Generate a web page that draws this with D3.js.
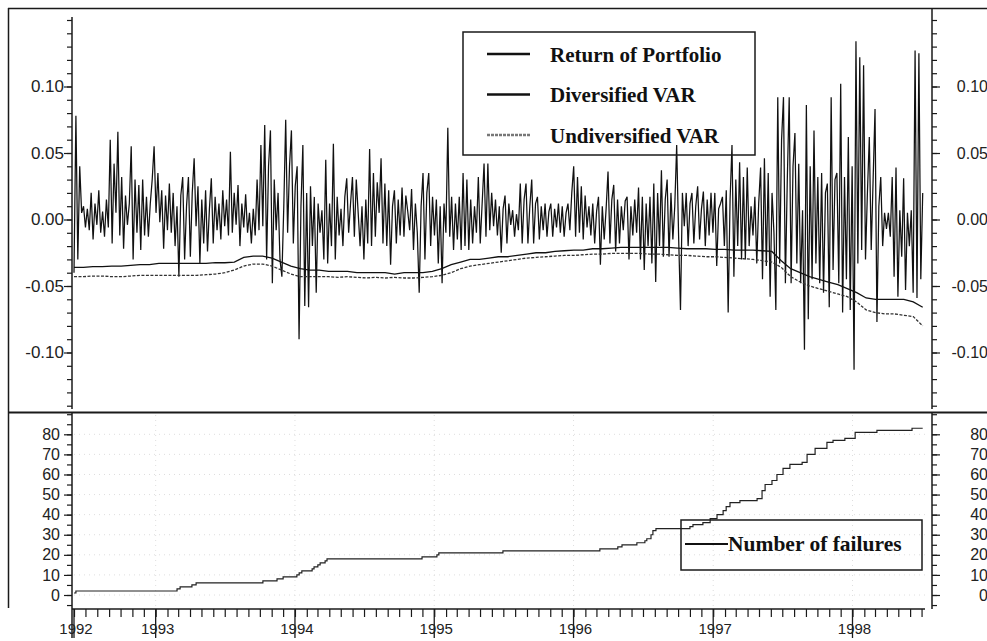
<!DOCTYPE html>
<html>
<head>
<meta charset="utf-8">
<script src="https://cdn.jsdelivr.net/npm/d3@7"></script>
<style>
  body { margin: 0; background: #fff; }
  svg { display: block; }
  .num { font-family: "Liberation Sans", Arial, sans-serif; fill: #222; }
  .leg { font-family: "Liberation Serif", "Times New Roman", serif; font-weight: bold; fill: #111; }
</style>
</head>
<body>
<svg id="chart" width="987" height="641"></svg>
<script>
// ---- time span ----
const axisStart = "1992-06-01";
const axisEnd = "1998-07-10";
const lastObs = "1998-07-04";

// ---- portfolio daily returns (sampled, evenly spaced from axisStart to lastObs) ----
const returns = [
  -0.040, 0.078, -0.030, 0.040, 0.005, 0.010, -0.006, 0.008, -0.008, 0.020,
  -0.015, 0.012, -0.004, 0.022, -0.010, 0.006, -0.013, 0.015, -0.006, 0.060,
  -0.018, 0.042, 0.005, 0.066, -0.012, 0.032, -0.022, 0.018, -0.004, 0.012,
  0.055, -0.030, 0.030, -0.010, 0.026, -0.023, 0.030, -0.012, 0.017, -0.013,
  0.012, 0.030, 0.055, 0.005, 0.035, -0.002, 0.022, -0.022, 0.018, -0.008,
  0.027, -0.010, 0.020, -0.020, 0.010, -0.043, 0.018, 0.032, -0.030, 0.010,
  0.032, -0.028, 0.020, 0.046, -0.005, 0.025, -0.033, 0.015, -0.018, 0.022,
  -0.024, 0.008, 0.031, -0.018, 0.017, -0.008, 0.012, -0.015, 0.022, -0.005,
  0.015, -0.012, 0.051, -0.010, 0.020, -0.004, 0.026, -0.020, 0.012, -0.006,
  0.019, -0.010, 0.005, -0.018, 0.008, -0.012, 0.030, -0.008, 0.056, -0.005,
  0.071, -0.030, 0.040, 0.067, -0.048, 0.030, -0.008, 0.020, -0.030, -0.043,
  0.010, 0.075, -0.010, 0.040, 0.067, -0.018, 0.025, 0.040, -0.090, 0.010,
  0.056, -0.065, 0.020, -0.066, 0.025, -0.020, 0.017, -0.055, 0.012, -0.010,
  0.007, -0.030, 0.045, -0.033, 0.012, -0.020, 0.057, -0.030, 0.017, -0.012,
  0.008, -0.020, 0.017, 0.031, -0.010, 0.012, 0.032, -0.013, 0.030, 0.005,
  -0.020, 0.010, -0.030, 0.015, -0.018, 0.053, -0.020, 0.035, -0.013, 0.028,
  0.005, 0.046, -0.018, 0.027, -0.020, 0.022, -0.034, 0.010, 0.022, -0.018,
  0.015, -0.012, 0.024, -0.013, 0.018, 0.006, -0.008, 0.023, -0.023, 0.012,
  -0.010, -0.055, 0.010, 0.035, -0.030, 0.020, 0.035, -0.020, 0.017, -0.012,
  0.015, -0.033, 0.010, -0.048, 0.012, -0.010, 0.069, -0.013, 0.017, -0.023,
  0.012, -0.015, 0.017, -0.023, 0.035, -0.020, 0.030, -0.023, 0.015, -0.018,
  0.010, -0.010, 0.032, -0.018, 0.012, 0.042, -0.013, 0.042, -0.008, 0.020,
  -0.005, 0.015, -0.012, 0.010, -0.025, 0.008, 0.018, -0.018, 0.012, -0.004,
  0.007, -0.013, 0.004, -0.008, 0.027, -0.018, 0.015, 0.027, -0.018, 0.010,
  0.030, -0.018, 0.012, 0.017, -0.015, 0.010, -0.008, 0.012, -0.013, 0.006,
  0.012, -0.013, 0.008, -0.006, 0.012, -0.010, 0.010, -0.013, 0.005, 0.012,
  -0.008, 0.020, 0.040, -0.013, 0.032, -0.010, 0.025, -0.015, 0.018, -0.006,
  0.010, -0.012, 0.012, -0.018, 0.006, 0.017, -0.034, 0.010, -0.015, 0.008,
  0.036, -0.018, 0.015, 0.026, -0.024, 0.015, -0.018, 0.010, -0.008, 0.014,
  0.017, -0.030, 0.010, -0.012, 0.015, -0.010, 0.024, -0.030, 0.017, -0.038,
  0.012, -0.020, 0.017, -0.033, 0.027, -0.047, 0.020, -0.020, 0.037, -0.028,
  0.015, 0.030, -0.028, 0.020, -0.015, 0.010, 0.056, -0.012, -0.068, 0.020,
  -0.005, 0.020, -0.020, 0.012, 0.020, -0.018, 0.010, 0.025, -0.015, 0.008,
  0.021, -0.020, 0.015, -0.012, 0.020, -0.010, 0.020, -0.035, 0.008, 0.012,
  0.017, -0.020, 0.022, -0.070, 0.015, 0.056, -0.043, 0.030, -0.020, 0.043,
  -0.030, 0.032, -0.030, 0.039, -0.020, 0.010, -0.012, 0.017, -0.033, 0.012,
  0.039, -0.045, 0.046, -0.035, 0.035, -0.058, 0.020, -0.010, -0.068, 0.092,
  -0.033, 0.060, 0.092, -0.048, 0.030, 0.092, -0.048, 0.040, 0.065, -0.033,
  0.042, -0.048, 0.007, -0.098, 0.086, -0.075, 0.040, -0.045, 0.067, -0.033,
  0.032, -0.048, 0.035, -0.055, 0.020, 0.027, -0.066, 0.092, -0.038, 0.030,
  0.035, -0.048, 0.102, -0.070, 0.032, -0.045, 0.062, -0.068, 0.040, -0.113,
  0.134, -0.033, 0.122, -0.023, 0.116, -0.030, 0.020, 0.062, -0.023, 0.030,
  0.083, -0.077, 0.010, 0.032, -0.020, 0.005, -0.007, 0.005, -0.013, 0.032,
  -0.043, 0.039, -0.058, 0.007, -0.028, 0.031, -0.053, 0.005, -0.020, 0.007,
  -0.055, 0.127, -0.059, 0.125, -0.045, 0.020
];

// ---- value-at-risk estimates (evenly spaced from axisStart to lastObs) ----
const varDiversified = [
  -0.036, -0.036, -0.0355, -0.0355, -0.035, -0.035, -0.0345, -0.034, -0.034, -0.033,
  -0.033, -0.033, -0.033, -0.033, -0.033, -0.0325, -0.0325, -0.032, -0.0285, -0.0275,
  -0.0275, -0.029, -0.032, -0.035, -0.037, -0.038, -0.038, -0.039, -0.039, -0.039,
  -0.040, -0.040, -0.040, -0.040, -0.041, -0.040, -0.040, -0.040, -0.039, -0.037,
  -0.034, -0.032, -0.030, -0.030, -0.029, -0.028, -0.028, -0.027, -0.026, -0.025,
  -0.025, -0.024, -0.0235, -0.023, -0.023, -0.022, -0.022, -0.0215, -0.021, -0.021,
  -0.021, -0.021, -0.021, -0.021, -0.0215, -0.022, -0.022, -0.022, -0.0225, -0.0225,
  -0.023, -0.023, -0.023, -0.0235, -0.024, -0.031, -0.037, -0.040, -0.043, -0.045,
  -0.047, -0.049, -0.052, -0.055, -0.059, -0.060, -0.060, -0.060, -0.060, -0.062, -0.066
];
const varUndiversified = [
  -0.043, -0.043, -0.0425, -0.0425, -0.043, -0.043, -0.0425, -0.042, -0.042, -0.042,
  -0.042, -0.042, -0.042, -0.042, -0.0415, -0.041, -0.040, -0.038, -0.035, -0.0335,
  -0.0335, -0.035, -0.038, -0.041, -0.043, -0.043, -0.043, -0.043, -0.0435, -0.043,
  -0.0435, -0.044, -0.0435, -0.044, -0.0435, -0.044, -0.044, -0.0435, -0.043, -0.042,
  -0.040, -0.037, -0.035, -0.034, -0.033, -0.032, -0.031, -0.030, -0.029, -0.0285,
  -0.028, -0.0275, -0.027, -0.027, -0.0265, -0.026, -0.026, -0.0255, -0.0255, -0.0255,
  -0.0255, -0.026, -0.026, -0.0265, -0.027, -0.027, -0.0275, -0.028, -0.028, -0.0285,
  -0.029, -0.0295, -0.030, -0.031, -0.032, -0.036, -0.043, -0.047, -0.050, -0.052,
  -0.054, -0.056, -0.058, -0.062, -0.068, -0.070, -0.071, -0.071, -0.072, -0.073, -0.080
];

// ---- cumulative number of failures (date of change, new count) ----
const failureDates = [
  "1992-06-01", "1992-06-06", "1993-02-26", "1993-03-06", "1993-04-06", "1993-04-17",
  "1993-10-09", "1993-11-15", "1993-12-01", "1994-01-06", "1994-01-12", "1994-01-19",
  "1994-02-15", "1994-02-20", "1994-03-02", "1994-03-08", "1994-03-21", "1994-03-26",
  "1994-11-30", "1995-01-08", "1995-01-13", "1995-06-30", "1996-03-10", "1996-04-26",
  "1996-05-07", "1996-06-15", "1996-07-06", "1996-07-11", "1996-07-22", "1996-07-27",
  "1996-08-04", "1996-11-01", "1996-11-09", "1996-12-05", "1996-12-24", "1997-01-11",
  "1997-01-27", "1997-02-04", "1997-02-14", "1997-03-12", "1997-04-26", "1997-05-09",
  "1997-05-17", "1997-06-04", "1997-06-17", "1997-07-03", "1997-07-21", "1997-08-22",
  "1997-09-04", "1997-09-25", "1997-10-26", "1997-11-11", "1997-12-12", "1998-01-08",
  "1998-03-06", "1998-06-06", "1998-07-04"
];
const failureCounts = [
  1, 2, 3, 4, 5, 6,
  7, 8, 9, 10, 11, 12,
  13, 14, 15, 16, 17, 18,
  19, 20, 21, 22, 23, 24,
  25, 26, 27, 28, 30, 32,
  33, 34, 35, 36, 38, 40,
  42, 44, 46, 47, 48, 52,
  55, 57, 60, 63, 65, 66,
  70, 73, 76, 77, 78, 81,
  82, 83, 83
];

// ---- axis ticks and labels ----
const returnTicks = [-0.10, -0.05, 0.00, 0.05, 0.10];
const failureTicks = [0, 10, 20, 30, 40, 50, 60, 70, 80];
const yearTickDates = ["1992-06-01", "1993-01-01", "1994-01-01", "1995-01-01", "1996-01-01", "1997-01-01", "1998-01-01"];
const yearLabels = ["1992", "1993", "1994", "1995", "1996", "1997", "1998"];
const legendTop = ["Return of Portfolio", "Diversified VAR", "Undiversified VAR"];
const legendBottom = ["Number of failures"];

const parse = d3.utcParse("%Y-%m-%d");
const svg = d3.select("#chart");
const ink = "#1a1a1a";

// ---- scales ----
const x = d3.scaleUtc().domain([parse(axisStart), parse(axisEnd)]).range([74, 925]);
const yR = d3.scaleLinear().domain([-0.15, 0.15]).range([419, 20]);
const yF = d3.scaleLinear().domain([0, 80]).range([595, 434.3]);

const t0 = +parse(axisStart), tN = +parse(lastObs);
const spread = (arr) => arr.map((v, i) => ({ t: new Date(t0 + i * (tN - t0) / (arr.length - 1)), v }));

// ---- frame ----
const frame = svg.append("g").attr("stroke", ink).attr("fill", "none");
frame.append("line").attr("x1", 8).attr("y1", 8.5).attr("x2", 987).attr("y2", 8.5).attr("stroke-width", 1.5);
frame.append("line").attr("x1", 8).attr("y1", 412.5).attr("x2", 987).attr("y2", 412.5).attr("stroke-width", 2);
frame.append("line").attr("x1", 8.5).attr("y1", 8).attr("x2", 8.5).attr("y2", 608).attr("stroke-width", 1.5);

// ---- lower panel grid ----
const grid = svg.append("g").attr("stroke", "#dedede").attr("stroke-dasharray", "1,4").attr("stroke-width", 1);
failureTicks.forEach(d => grid.append("line").attr("x1", 74).attr("x2", 925).attr("y1", yF(d)).attr("y2", yF(d)));
yearTickDates.slice(1).forEach(d => grid.append("line").attr("x1", x(parse(d))).attr("x2", x(parse(d))).attr("y1", 415).attr("y2", 607));

// ---- vertical axes ----
function styleAxis(g) {
  g.select(".domain").remove();
  g.selectAll("line").attr("stroke", ink).attr("stroke-width", 1.2);
  g.selectAll("text").attr("class", "num").attr("font-size", 16);
}
const fmt = d => d.toFixed(2);
const minorR = d3.range(-14, 16).map(d => d / 100);
const minorF = d3.range(-5, 95, 5);

// top-left
svg.append("g").attr("transform", "translate(72,0)")
  .call(d3.axisLeft(yR).tickValues(minorR).tickSize(5).tickFormat("")).call(styleAxis);
svg.append("g").attr("transform", "translate(72,0)")
  .call(d3.axisLeft(yR).tickValues(returnTicks).tickSize(8).tickPadding(0).tickFormat(fmt)).call(styleAxis)
  .selectAll("text").attr("font-size", 17);
// top-right
svg.append("g").attr("transform", "translate(932,0)")
  .call(d3.axisRight(yR).tickValues(minorR).tickSize(5).tickFormat("")).call(styleAxis);
svg.append("g").attr("transform", "translate(932,0)")
  .call(d3.axisRight(yR).tickValues(returnTicks).tickSize(8).tickFormat(fmt)).call(styleAxis)
  .selectAll("text").attr("text-anchor", "end").attr("x", 56);
// bottom-left
svg.append("g").attr("transform", "translate(72,0)")
  .call(d3.axisLeft(yF).tickValues(minorF).tickSize(5).tickFormat("")).call(styleAxis);
svg.append("g").attr("transform", "translate(72,0)")
  .call(d3.axisLeft(yF).tickValues(failureTicks).tickSize(8).tickPadding(4).tickFormat(d3.format("d"))).call(styleAxis);
// bottom-right
svg.append("g").attr("transform", "translate(932,0)")
  .call(d3.axisRight(yF).tickValues(minorF).tickSize(5).tickFormat("")).call(styleAxis);
svg.append("g").attr("transform", "translate(932,0)")
  .call(d3.axisRight(yF).tickValues(failureTicks).tickSize(8).tickFormat(d3.format("d"))).call(styleAxis)
  .selectAll("text").attr("text-anchor", "end").attr("x", 56);

// axis lines
const axl = svg.append("g").attr("stroke", ink).attr("stroke-width", 1.5);
axl.append("line").attr("x1", 72).attr("x2", 72).attr("y1", 17).attr("y2", 409);
axl.append("line").attr("x1", 932).attr("x2", 932).attr("y1", 8).attr("y2", 409);
axl.append("line").attr("x1", 72).attr("x2", 72).attr("y1", 413).attr("y2", 638);
axl.append("line").attr("x1", 932).attr("x2", 932).attr("y1", 413).attr("y2", 609);

// ---- time axis ----
const xg = svg.append("g").attr("transform", "translate(0,609)");
xg.call(d3.axisBottom(x).tickValues(d3.utcMonth.range(d3.utcMonth.ceil(x.domain()[0]), x.domain()[1])).tickSize(8).tickFormat(""));
xg.select(".domain").remove();
xg.selectAll("line").attr("stroke", ink).attr("stroke-width", 1.2);
xg.append("line").attr("x1", 72).attr("x2", 925).attr("y1", 0).attr("y2", 0).attr("stroke", ink).attr("stroke-width", 1.5);
yearTickDates.forEach((d, i) => {
  const px = x(parse(d));
  xg.append("line").attr("x1", px).attr("x2", px).attr("y1", 0).attr("y2", 29).attr("stroke", ink).attr("stroke-width", 1.3);
  xg.append("text").attr("class", "num").attr("font-size", 15).attr("x", px + 2).attr("y", 25).text(yearLabels[i]);
});

// ---- series ----
const lineR = d3.line().x(d => x(d.t)).y(d => yR(d.v));
svg.append("path").datum(spread(returns)).attr("d", lineR)
  .attr("fill", "none").attr("stroke", "#111").attr("stroke-width", 1.25);
svg.append("path").datum(spread(varUndiversified)).attr("d", lineR)
  .attr("fill", "none").attr("stroke", "#333").attr("stroke-width", 1.3).attr("stroke-dasharray", "3,1.5");
svg.append("path").datum(spread(varDiversified)).attr("d", lineR)
  .attr("fill", "none").attr("stroke", "#111").attr("stroke-width", 1.3);

const failures = failureDates.map((d, i) => ({ t: parse(d), v: failureCounts[i] }));
svg.append("path").datum(failures)
  .attr("d", d3.line().curve(d3.curveStepAfter).x(d => x(d.t)).y(d => yF(d.v)))
  .attr("fill", "none").attr("stroke", "#222").attr("stroke-width", 1.2);

// ---- legends ----
const lg = svg.append("g");
lg.append("rect").attr("x", 463).attr("y", 32).attr("width", 292).attr("height", 123)
  .attr("fill", "none").attr("stroke", ink).attr("stroke-width", 1.5);
const sampleStyle = [
  { c: "#111", dash: null },
  { c: "#111", dash: null },
  { c: "#777", dash: "3,1" }
];
legendTop.forEach((name, i) => {
  const yy = 54 + i * 40.5;
  lg.append("line").attr("x1", 487).attr("x2", 530).attr("y1", yy).attr("y2", yy)
    .attr("stroke", sampleStyle[i].c).attr("stroke-width", 2.6).attr("stroke-dasharray", sampleStyle[i].dash);
  lg.append("text").attr("class", "leg").attr("font-size", 21).attr("x", 550).attr("y", yy + 7.5).text(name);
});
lg.append("rect").attr("x", 681).attr("y", 520).attr("width", 241).attr("height", 50)
  .attr("fill", "none").attr("stroke", ink).attr("stroke-width", 1.5);
lg.append("line").attr("x1", 685).attr("x2", 728).attr("y1", 544).attr("y2", 544)
  .attr("stroke", "#111").attr("stroke-width", 2.2);
lg.append("text").attr("class", "leg").attr("font-size", 21.5).attr("x", 728).attr("y", 551).text(legendBottom[0]);
</script>
</body>
</html>
